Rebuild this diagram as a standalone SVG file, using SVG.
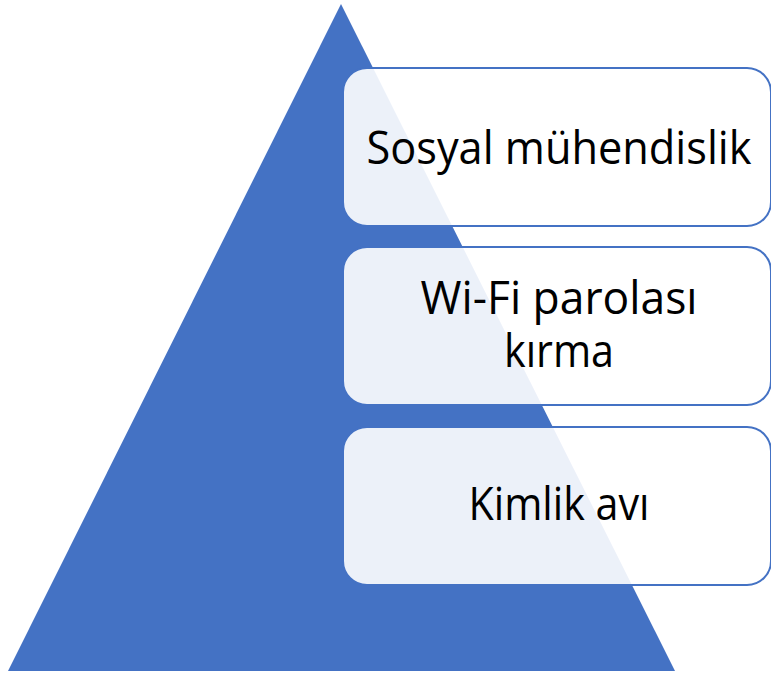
<svg xmlns="http://www.w3.org/2000/svg" width="771" height="674" viewBox="0 0 771 674">
  <style>
    .box { fill: #ffffff; fill-opacity: 0.9; stroke: #4472C4; stroke-width: 2; }
    .lbl { font-family: "Open Sans", "Liberation Sans", sans-serif; font-size: 46px; fill: #000000; text-anchor: middle; }
  </style>
  <rect x="0" y="0" width="771" height="674" fill="#ffffff"/>
  <g id="pyramid">
    <polygon points="341,4 8,671 675,671" fill="#4472C4"/>
  </g>
  <g id="node-sosyal">
    <rect class="box" x="343" y="68" width="428" height="158" rx="24" ry="24"/>
    <text class="lbl" x="559" y="164" textLength="385" lengthAdjust="spacingAndGlyphs">Sosyal mühendislik</text>
  </g>
  <g id="node-wifi">
    <rect class="box" x="343" y="247" width="428" height="158" rx="24" ry="24"/>
    <text class="lbl" x="559" y="314" textLength="277" lengthAdjust="spacingAndGlyphs">Wi-Fi parolası</text>
    <text class="lbl" x="559" y="367" textLength="110" lengthAdjust="spacingAndGlyphs">kırma</text>
  </g>
  <g id="node-kimlik">
    <rect class="box" x="343" y="427" width="428" height="158" rx="24" ry="24"/>
    <text class="lbl" x="559" y="520" textLength="181" lengthAdjust="spacingAndGlyphs">Kimlik avı</text>
  </g>
  <g id="connectors"></g>
</svg>
